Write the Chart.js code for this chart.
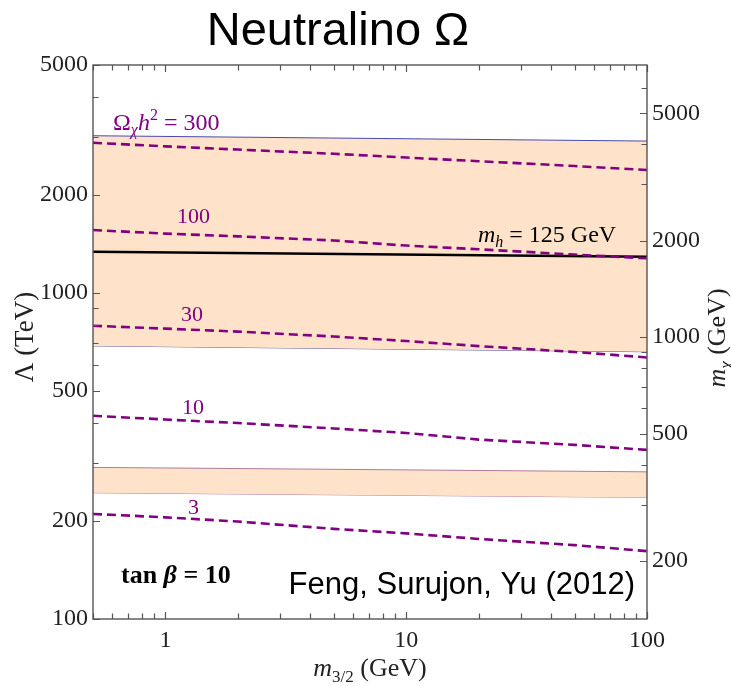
<!DOCTYPE html>
<html>
<head>
<meta charset="utf-8">
<script src="https://cdn.jsdelivr.net/npm/chart.js@4/dist/chart.umd.min.js"></script>
<style>
  html, body { margin: 0; padding: 0; background: #fff; }
  #wrap { width: 731px; height: 686px; }
</style>
</head>
<body>
<div id="wrap"><canvas id="chart" width="731" height="686"></canvas></div>
<script>
// gravitino mass (GeV) sample points
const m32 = [0.5, 1, 2, 5, 10, 20, 50, 100];

// relic density contours, Lambda in TeV
const omega300 = [2887, 2815, 2752, 2671, 2601, 2535, 2450, 2382];
const omega100 = [1559, 1520, 1491, 1448, 1397, 1361, 1311, 1277];
const omega30 = [793, 777, 761, 735, 712, 687, 659, 634];
const omega10 = [420, 409, 399, 384, 372, 355, 342, 330];
const omega3 = [210, 205, 199, 189, 183, 176, 168.5, 161.5];

// band edges and Higgs mass line, at both ends of the range
const edgeX = [0.5, 100];
const upperBandTop = [3034, 2922];
const upperBandBottom = [688, 660];
const lowerBandTop = [291.7, 282.7];
const lowerBandBottom = [243.8, 236];
const higgs125 = [1338, 1291];

// tick values
const xTicks = [0.5, 0.6, 0.7, 0.8, 0.9, 1, 2, 3, 4, 5, 6, 7, 8, 9, 10, 20, 30, 40, 50, 60, 70, 80, 90, 100];
const xLabels = [1, 10, 100];
const yTicks = [100, 200, 300, 400, 500, 600, 700, 800, 900, 1000, 2000, 3000, 4000, 5000];
const yLabels = [100, 200, 500, 1000, 2000, 5000];
const y2Ticks = [200, 300, 400, 500, 600, 700, 800, 900, 1000, 2000, 3000, 4000, 5000, 6000, 7000];
const y2Labels = [200, 500, 1000, 2000, 5000];

const SERIF = '"Liberation Serif", "Times New Roman", serif';
const SANS = '"Liberation Sans", Arial, sans-serif';
const PURPLE = "#800080";
const PEACH = "rgba(254, 226, 202, 1)";

const pts = (xs, ys) => xs.map((x, i) => ({ x: x, y: ys[i] }));

function contour(values) {
  return {
    data: pts(m32, values),
    borderColor: PURPLE,
    borderWidth: 2.6,
    borderDash: [9, 5],
    pointRadius: 0,
    fill: false,
    order: 1
  };
}

// draws a run of text pieces: [text, font, dy]
function rich(ctx, parts, x, y, align) {
  let total = 0;
  parts.forEach(p => { ctx.font = p[1]; total += ctx.measureText(p[0]).width; });
  let cx = align === "center" ? x - total / 2 : align === "right" ? x - total : x;
  ctx.textAlign = "left";
  ctx.textBaseline = "alphabetic";
  parts.forEach(p => {
    ctx.font = p[1];
    ctx.fillText(p[0], cx, y + (p[2] || 0));
    cx += ctx.measureText(p[0]).width;
  });
}

const tickMarks = {
  id: "tickMarks",
  afterDatasetsDraw(chart) {
    const ctx = chart.ctx;
    const a = chart.chartArea;
    const sx = chart.scales.x, sy = chart.scales.y, sy2 = chart.scales.y2;
    ctx.save();
    ctx.strokeStyle = "#555";
    ctx.lineWidth = 1.2;
    ctx.beginPath();
    xTicks.forEach(v => {
      const px = Math.round(sx.getPixelForValue(v)) + 0.5;
      const len = xLabels.includes(v) ? 7 : 5.5;
      ctx.moveTo(px, a.bottom); ctx.lineTo(px, a.bottom - len);
      ctx.moveTo(px, a.top); ctx.lineTo(px, a.top + len);
    });
    yTicks.forEach(v => {
      const py = Math.round(sy.getPixelForValue(v)) + 0.5;
      const len = yLabels.includes(v) ? 7 : 5.5;
      ctx.moveTo(a.left, py); ctx.lineTo(a.left + len, py);
    });
    y2Ticks.forEach(v => {
      const py = Math.round(sy2.getPixelForValue(v)) + 0.5;
      if (py < a.top + 2) return;
      const len = y2Labels.includes(v) ? 7 : 5.5;
      ctx.moveTo(a.right, py); ctx.lineTo(a.right - len, py);
    });
    ctx.stroke();
    ctx.lineWidth = 1.4;
    ctx.strokeRect(a.left, a.top, a.right - a.left, a.bottom - a.top);
    ctx.restore();
  },
  afterDraw(chart) {
    const ctx = chart.ctx;
    ctx.save();
    // title
    ctx.fillStyle = "#000";
    rich(ctx, [["Neutralino \u03A9", "47px " + SANS]], 338, 45, "center");

    // contour labels
    ctx.fillStyle = PURPLE;
    rich(ctx, [
      ["\u03A9", "24px " + SERIF],
      ["\u03C7", "italic 16px " + SERIF, 5],
      ["h", "italic 24px " + SERIF],
      ["2", "16px " + SERIF, -10],
      [" = 300", "24px " + SERIF]
    ], 113, 130, "left");
    rich(ctx, [["100", "22px " + SERIF]], 177, 223, "left");
    rich(ctx, [["30", "22px " + SERIF]], 181, 321, "left");
    rich(ctx, [["10", "22px " + SERIF]], 182, 414, "left");
    rich(ctx, [["3", "22px " + SERIF]], 188, 514, "left");

    ctx.fillStyle = "#000";
    rich(ctx, [
      ["m", "italic 24px " + SERIF],
      ["h", "italic 16px " + SERIF, 5],
      [" = 125 GeV", "24px " + SERIF]
    ], 478, 242, "left");

    rich(ctx, [
      ["tan ", "bold 26px " + SERIF],
      ["\u03B2", "bold italic 26px " + SERIF],
      [" = 10", "bold 26px " + SERIF]
    ], 121, 583, "left");

    rich(ctx, [["Feng, Surujon, Yu (2012)", "31px " + SANS]], 635, 594, "right");

    // axis titles
    ctx.fillStyle = "#222";
    rich(ctx, [
      ["m", "italic 26px " + SERIF],
      ["3/2", "17px " + SERIF, 6],
      [" (GeV)", "26px " + SERIF]
    ], 370, 676, "center");

    ctx.save();
    ctx.translate(33, 337);
    ctx.rotate(-Math.PI / 2);
    rich(ctx, [["\u039B (TeV)", "27px " + SERIF]], 0, 0, "center");
    ctx.restore();

    ctx.save();
    ctx.translate(725, 338);
    ctx.rotate(-Math.PI / 2);
    rich(ctx, [
      ["m", "italic 26px " + SERIF],
      ["\u03C7", "italic 17px " + SERIF, 6],
      [" (GeV)", "26px " + SERIF]
    ], 0, 0, "center");
    ctx.restore();

    ctx.restore();
  }
};

function logAxis(position, min, max, ticks, labels, width, padding) {
  return {
    type: "logarithmic",
    position: position,
    min: min,
    max: max,
    grid: { display: false, drawTicks: false },
    border: { display: false },
    afterBuildTicks: s => { s.ticks = ticks.map(v => ({ value: v })); },
    afterFit: s => {
      if (position === "bottom") s.height = width;
      else s.width = width;
    },
    ticks: {
      autoSkip: false,
      maxRotation: 0,
      padding: padding,
      color: "#222",
      font: { family: SERIF, size: 24 },
      callback: v => labels.includes(v) ? String(v) : ""
    }
  };
}

const chart = new Chart(document.getElementById("chart").getContext("2d"), {
  type: "line",
  data: {
    datasets: [
      { data: pts(edgeX, upperBandTop), borderColor: "#4a4aa8", borderWidth: 1, pointRadius: 0, backgroundColor: PEACH, fill: "+1", order: 3 },
      { data: pts(edgeX, upperBandBottom), borderColor: "#4a4aa8", borderWidth: 1, pointRadius: 0, fill: false, order: 3 },
      { data: pts(edgeX, lowerBandTop), borderColor: "#b47a9a", borderWidth: 1, pointRadius: 0, backgroundColor: PEACH, fill: "+1", order: 3 },
      { data: pts(edgeX, lowerBandBottom), borderColor: "#b47a9a", borderWidth: 1, pointRadius: 0, fill: false, order: 3 },
      { data: pts(edgeX, higgs125), borderColor: "#000", borderWidth: 2.6, pointRadius: 0, fill: false, order: 2 },
      contour(omega300),
      contour(omega100),
      contour(omega30),
      contour(omega10),
      contour(omega3)
    ]
  },
  options: {
    responsive: false,
    animation: false,
    layout: { padding: { top: 65, left: 0, right: 0, bottom: 0 } },
    plugins: { legend: { display: false }, tooltip: { enabled: false } },
    scales: {
      x: logAxis("bottom", 0.5, 100, xTicks, xLabels, 67, 7),
      y: logAxis("left", 100, 5000, yTicks, yLabels, 93, 5),
      y2: logAxis("right", 132, 7070, y2Ticks, y2Labels, 84, 5)
    }
  },
  plugins: [tickMarks]
});
</script>
</body>
</html>
